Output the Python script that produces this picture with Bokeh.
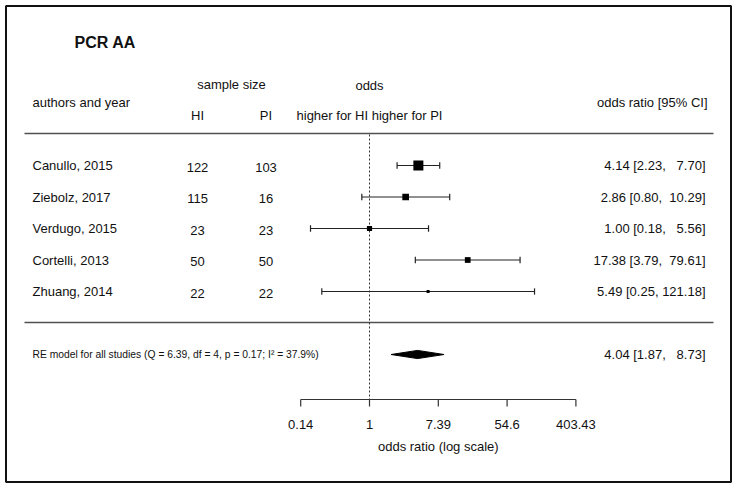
import numpy as np
from bokeh.plotting import figure
from bokeh.models import Range1d, ColumnDataSource
from bokeh.core.properties import value
from bokeh.embed import file_html
from bokeh.resources import INLINE

# ---------------- data ----------------
title = "PCR AA"
studies = ["Canullo, 2015", "Ziebolz, 2017", "Verdugo, 2015", "Cortelli, 2013", "Zhuang, 2014"]
n_hi = [122, 115, 23, 50, 22]
n_pi = [103, 16, 23, 50, 22]
odds = [4.14, 2.86, 1.00, 17.38, 5.49]
ci_low = [2.23, 0.80, 0.18, 3.79, 0.25]
ci_high = [7.70, 10.29, 5.56, 79.61, 121.18]
weights = [37.0, 22.4, 15.9, 18.4, 6.4]          # estimated RE weights (%)
re_label = "RE model for all studies (Q = 6.39, df = 4, p = 0.17; I\u00b2 = 37.9%)"
re_odds = 4.04
re_low = 1.87
re_high = 8.73
axis_tick_log = [-2, 0, 2, 4, 6]
axis_tick_labels = ["0.14", "1", "7.39", "54.6", "403.43"]
axis_title = "odds ratio (log scale)"

# ---------------- derived ----------------
k = len(studies)
rows = list(range(k, 0, -1))
re_row = -1


def fmt(o, l, h):
    return f"{o:.2f} [{l:.2f}, {h:>6.2f}]".replace(" ", "\u00a0")


ci_text = [fmt(o, l, h) for o, l, h in zip(odds, ci_low, ci_high)]
w = np.array(weights)
box_size = 3 + 7 * (w - w.min()) / (w.max() - w.min())

src = ColumnDataSource(dict(
    study=studies, hi=[str(v) for v in n_hi], pi=[str(v) for v in n_pi],
    row=rows, est=np.log(odds), lo=np.log(ci_low), hi_ci=np.log(ci_high),
    ci_text=ci_text, size=box_size,
))

FONT = value("Liberation Sans")
INK = "#111111"

W, H = 737, 488
p = figure(width=W, height=H, title=None,
           x_range=Range1d(-369 / 34.4, (W - 369) / 34.4),
           y_range=Range1d((322.5 - H) / 31.5, 322.5 / 31.5),
           output_backend="svg", toolbar_location=None, min_border=0,
           x_axis_location=None, y_axis_location=None)
p.grid.visible = False
p.outline_line_color = None
p.background_fill_color = "white"
p.border_fill_color = "white"
p.extra_x_ranges = {"px": Range1d(0, W)}
p.extra_y_ranges = {"py": Range1d(H, 0)}

# outer frame
p.quad(left=[5.5], right=[730.5], top=[5.5], bottom=[481.5], x_range_name="px", y_range_name="py",
       fill_color=None, line_color="#111111", line_width=2)

# separator lines
p.segment(x0=[24, 24], x1=[713, 713], y0=[133, 322], y1=[133, 322],
          x_range_name="px", y_range_name="py", line_color="#505050", line_width=1.6)

# reference (no effect) line at OR = 1
p.segment(x0=[np.log(1.0)], x1=[np.log(1.0)], y0=[134], y1=[399], y_range_name="py",
          line_color="#333333", line_width=1, line_dash="2 2")


def txt(x, y, s, align="left", size="13px", style="normal"):
    p.text(x=[x], y=[y], text=[s], x_range_name="px", y_range_name="py",
           text_font=FONT, text_font_size=size, text_font_style=style,
           text_align=align, text_baseline="middle", text_color=INK)


txt(74, 42, title, size="16px", style="bold")
txt(32, 101.5, "authors and year")
txt(231, 84, "sample size", align="center")
txt(197, 115, "HI", align="center")
txt(265.5, 115, "PI", align="center")
txt(369, 85, "odds", align="center")
txt(369, 114.5, "higher for HI higher for PI", align="center")
txt(707, 101.5, "odds ratio [95% CI]", align="right")

# study rows text
p.text(x=32, y="row", text="study", source=src, x_range_name="px", text_font=FONT,
       text_font_size="13px", text_baseline="middle", text_align="left", text_color=INK)
p.text(x=197, y="row", text="hi", source=src, x_range_name="px", text_font=FONT,
       text_font_size="13px", text_baseline="middle", text_align="center", text_color=INK,
       y_offset=1.5)
p.text(x=265.5, y="row", text="pi", source=src, x_range_name="px", text_font=FONT,
       text_font_size="13px", text_baseline="middle", text_align="center", text_color=INK,
       y_offset=1.5)
p.text(x=705, y="row", text="ci_text", source=src, x_range_name="px", text_font=FONT,
       text_font_size="13px", text_baseline="middle", text_align="right", text_color=INK)

# CIs with end caps
cap = 0.1
p.segment(x0="lo", x1="hi_ci", y0="row", y1="row", source=src, line_color="#222222", line_width=1.2)
caps = ColumnDataSource(dict(x=list(np.log(ci_low)) + list(np.log(ci_high)),
                             y0=[r - cap for r in rows] * 2, y1=[r + cap for r in rows] * 2))
p.segment(x0="x", x1="x", y0="y0", y1="y1", source=caps, line_color="#222222", line_width=1.2)

# point estimates
p.scatter(x="est", y="row", size="size", marker="square", source=src,
          fill_color="black", line_color="black", line_width=0)

# summary diamond
dh = 0.13
p.patch(x=[np.log(re_low), np.log(re_odds), np.log(re_high), np.log(re_odds)],
        y=[re_row, re_row + dh, re_row, re_row - dh], fill_color="black", line_color="black")
p.text(x=[32], y=[re_row], text=[re_label], x_range_name="px", text_font=FONT,
       text_font_size="10.3px", text_baseline="middle", text_align="left", text_color=INK)
p.text(x=[705], y=[re_row], text=[fmt(re_odds, re_low, re_high)], x_range_name="px",
       text_font=FONT, text_font_size="13px", text_baseline="middle", text_align="right",
       text_color=INK)

# bottom axis (log odds ratio)
ticks = axis_tick_log
p.segment(x0=[min(ticks)], x1=[max(ticks)], y0=[399], y1=[399], y_range_name="py",
          line_color="#333333", line_width=1.2)
p.segment(x0=ticks, x1=ticks, y0=[399] * len(ticks), y1=[406] * len(ticks), y_range_name="py",
          line_color="#333333", line_width=1.2)
p.text(x=ticks, y=[424] * len(ticks), text=axis_tick_labels, y_range_name="py", text_font=FONT,
       text_font_size="13px", text_baseline="middle", text_align="center", text_color=INK)
p.text(x=[(min(ticks) + max(ticks)) / 2], y=[446], text=[axis_title], y_range_name="py",
       text_font=FONT, text_font_size="13px", text_baseline="middle", text_align="center",
       text_color=INK)

open("out.html", "w").write(file_html(p, INLINE))
